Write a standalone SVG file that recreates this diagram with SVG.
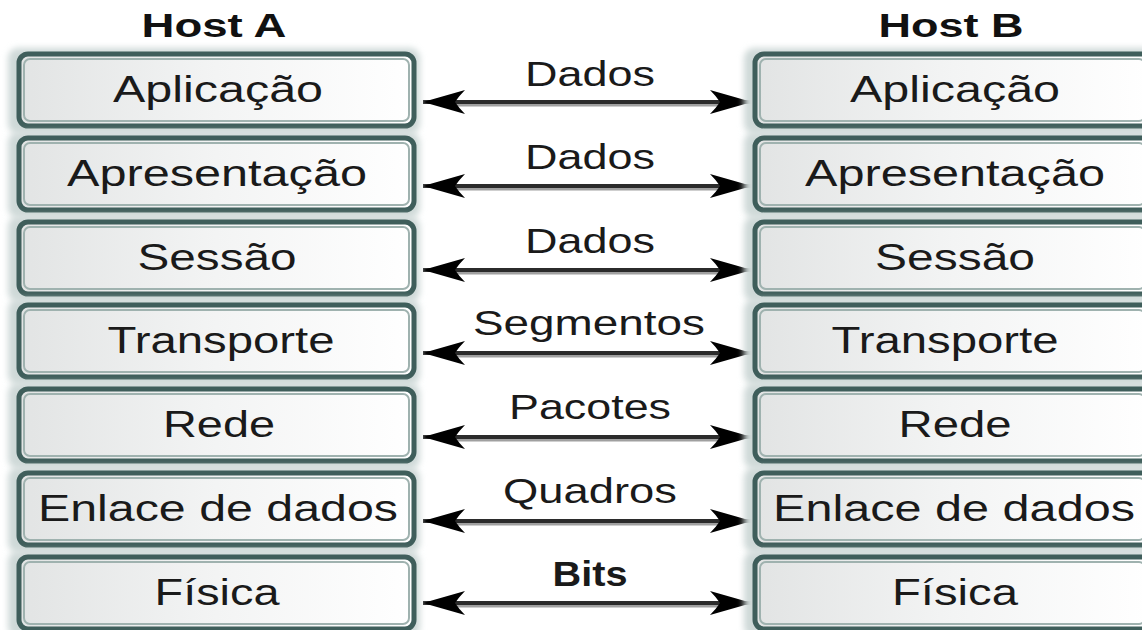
<svg xmlns="http://www.w3.org/2000/svg" width="1142" height="630" viewBox="0 0 1142 630">
<style>
.host{font-family:"Liberation Sans",Arial,sans-serif;font-weight:bold;font-size:34px;fill:#111;text-anchor:middle}
.lt{font-family:"Liberation Sans",Arial,sans-serif;font-size:36px;fill:#1a1a1a;text-anchor:middle}
.lbl{font-family:"Liberation Sans",Arial,sans-serif;font-size:35px;fill:#1a1a1a;text-anchor:middle}
.halo{fill:#cfd9d8;filter:url(#blur)}
.frame{fill:url(#fillg);stroke:#3f5e5b;stroke-width:5}
.bevel{fill:none;stroke:#9fb2af;stroke-width:2}
.ln{stroke:#2b2b2b;stroke-width:4;fill:none;marker-start:url(#ah);marker-end:url(#ah)}
.sh{stroke:#a0a0a0;stroke-width:3;fill:none}
</style>
<defs>
<linearGradient id="fillg" x1="0" y1="0" x2="1" y2="0">
<stop offset="0" stop-color="#e2e4e4"/>
<stop offset="0.5" stop-color="#f3f4f4"/>
<stop offset="1" stop-color="#ffffff"/>
</linearGradient>
<filter id="blur" x="-5%" y="-20%" width="110%" height="140%"><feGaussianBlur stdDeviation="3"/></filter>
<marker id="ah" markerUnits="userSpaceOnUse" markerWidth="50" markerHeight="30" refX="44" refY="13" orient="auto-start-reverse" viewBox="0 0 50 26">
<path d="M44,13 L2,1 Q8,7 12,13 Q8,19 2,25 Z" fill="#000"/>
</marker>
</defs>
<rect width="1142" height="630" fill="#fff"/>
<text class="host" x="214" y="37" textLength="145" lengthAdjust="spacingAndGlyphs">Host A</text>
<text class="host" x="951" y="37" textLength="145" lengthAdjust="spacingAndGlyphs">Host B</text>

<g id="connectors">
<g id="c1"><path class="sh" d="M440,105 H735"/><path class="ln" d="M423,102 H752"/><text class="lbl" x="590" y="86" textLength="130" lengthAdjust="spacingAndGlyphs">Dados</text></g>
<g id="c2"><path class="sh" d="M440,189 H735"/><path class="ln" d="M423,186 H752"/><text class="lbl" x="590" y="169" textLength="130" lengthAdjust="spacingAndGlyphs">Dados</text></g>
<g id="c3"><path class="sh" d="M440,273 H735"/><path class="ln" d="M423,270 H752"/><text class="lbl" x="590" y="253" textLength="130" lengthAdjust="spacingAndGlyphs">Dados</text></g>
<g id="c4"><path class="sh" d="M440,356 H735"/><path class="ln" d="M423,353 H752"/><text class="lbl" x="589" y="335" textLength="232" lengthAdjust="spacingAndGlyphs">Segmentos</text></g>
<g id="c5"><path class="sh" d="M440,440 H735"/><path class="ln" d="M423,437 H752"/><text class="lbl" x="590" y="419" textLength="162" lengthAdjust="spacingAndGlyphs">Pacotes</text></g>
<g id="c6"><path class="sh" d="M440,524 H735"/><path class="ln" d="M423,521 H752"/><text class="lbl" x="590" y="503" textLength="174" lengthAdjust="spacingAndGlyphs">Quadros</text></g>
<g id="c7"><path class="sh" d="M440,606 H735"/><path class="ln" d="M423,603 H752"/><text class="lbl" x="590" y="586" textLength="75" lengthAdjust="spacingAndGlyphs" font-weight="bold">Bits</text></g>
</g>

<g id="a1"><rect class="halo" x="8" y="48" width="412" height="86" rx="10"/><rect class="frame" x="19" y="54" width="395" height="72" rx="9"/><rect class="bevel" x="24" y="59" width="385" height="62" rx="6"/><text class="lt" x="218" y="102" textLength="210" lengthAdjust="spacingAndGlyphs">Aplicação</text></g>
<g id="a2"><rect class="halo" x="8" y="132" width="412" height="86" rx="10"/><rect class="frame" x="19" y="138" width="395" height="72" rx="9"/><rect class="bevel" x="24" y="143" width="385" height="62" rx="6"/><text class="lt" x="217" y="186" textLength="300" lengthAdjust="spacingAndGlyphs">Apresentação</text></g>
<g id="a3"><rect class="halo" x="8" y="216" width="412" height="86" rx="10"/><rect class="frame" x="19" y="222" width="395" height="72" rx="9"/><rect class="bevel" x="24" y="227" width="385" height="62" rx="6"/><text class="lt" x="217" y="270" textLength="159" lengthAdjust="spacingAndGlyphs">Sessão</text></g>
<g id="a4"><rect class="halo" x="8" y="299" width="412" height="86" rx="10"/><rect class="frame" x="19" y="305" width="395" height="72" rx="9"/><rect class="bevel" x="24" y="310" width="385" height="62" rx="6"/><text class="lt" x="221" y="353" textLength="227" lengthAdjust="spacingAndGlyphs">Transporte</text></g>
<g id="a5"><rect class="halo" x="8" y="383" width="412" height="86" rx="10"/><rect class="frame" x="19" y="389" width="395" height="72" rx="9"/><rect class="bevel" x="24" y="394" width="385" height="62" rx="6"/><text class="lt" x="219" y="437" textLength="112" lengthAdjust="spacingAndGlyphs">Rede</text></g>
<g id="a6"><rect class="halo" x="8" y="467" width="412" height="86" rx="10"/><rect class="frame" x="19" y="473" width="395" height="72" rx="9"/><rect class="bevel" x="24" y="478" width="385" height="62" rx="6"/><text class="lt" x="218" y="521" textLength="360" lengthAdjust="spacingAndGlyphs">Enlace de dados</text></g>
<g id="a7"><rect class="halo" x="8" y="551" width="412" height="86" rx="10"/><rect class="frame" x="19" y="557" width="395" height="72" rx="9"/><rect class="bevel" x="24" y="562" width="385" height="62" rx="6"/><text class="lt" x="217" y="605" textLength="125" lengthAdjust="spacingAndGlyphs">Física</text></g>

<g id="b1"><rect class="halo" x="744" y="48" width="412" height="86" rx="10"/><rect class="frame" x="755" y="54" width="395" height="72" rx="9"/><rect class="bevel" x="760" y="59" width="385" height="62" rx="6"/><text class="lt" x="955" y="102" textLength="210" lengthAdjust="spacingAndGlyphs">Aplicação</text></g>
<g id="b2"><rect class="halo" x="744" y="132" width="412" height="86" rx="10"/><rect class="frame" x="755" y="138" width="395" height="72" rx="9"/><rect class="bevel" x="760" y="143" width="385" height="62" rx="6"/><text class="lt" x="955" y="186" textLength="300" lengthAdjust="spacingAndGlyphs">Apresentação</text></g>
<g id="b3"><rect class="halo" x="744" y="216" width="412" height="86" rx="10"/><rect class="frame" x="755" y="222" width="395" height="72" rx="9"/><rect class="bevel" x="760" y="227" width="385" height="62" rx="6"/><text class="lt" x="955" y="270" textLength="160" lengthAdjust="spacingAndGlyphs">Sessão</text></g>
<g id="b4"><rect class="halo" x="744" y="299" width="412" height="86" rx="10"/><rect class="frame" x="755" y="305" width="395" height="72" rx="9"/><rect class="bevel" x="760" y="310" width="385" height="62" rx="6"/><text class="lt" x="945" y="353" textLength="227" lengthAdjust="spacingAndGlyphs">Transporte</text></g>
<g id="b5"><rect class="halo" x="744" y="383" width="412" height="86" rx="10"/><rect class="frame" x="755" y="389" width="395" height="72" rx="9"/><rect class="bevel" x="760" y="394" width="385" height="62" rx="6"/><text class="lt" x="955" y="437" textLength="113" lengthAdjust="spacingAndGlyphs">Rede</text></g>
<g id="b6"><rect class="halo" x="744" y="467" width="412" height="86" rx="10"/><rect class="frame" x="755" y="473" width="395" height="72" rx="9"/><rect class="bevel" x="760" y="478" width="385" height="62" rx="6"/><text class="lt" x="954" y="521" textLength="362" lengthAdjust="spacingAndGlyphs">Enlace de dados</text></g>
<g id="b7"><rect class="halo" x="744" y="551" width="412" height="86" rx="10"/><rect class="frame" x="755" y="557" width="395" height="72" rx="9"/><rect class="bevel" x="760" y="562" width="385" height="62" rx="6"/><text class="lt" x="955" y="605" textLength="126" lengthAdjust="spacingAndGlyphs">Física</text></g>
</svg>
